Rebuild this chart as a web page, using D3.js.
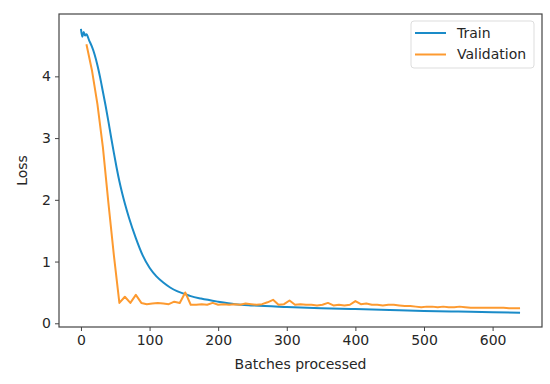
<!DOCTYPE html>
<html>
<head>
<meta charset="utf-8">
<script src="https://cdn.jsdelivr.net/npm/d3@7"></script>
<style>
  body { margin: 0; background: #fff; }
  svg text { font-family: "DejaVu Sans", sans-serif; fill: #262626; }
</style>
</head>
<body>
<svg id="chart" width="550" height="384"></svg>
<script>
// training loss
const trainBatch = [0, 2, 4, 6, 8, 12, 16, 20, 24, 28, 32, 36, 40, 44, 48, 52, 56, 60, 64, 70,
    80, 90, 100, 110, 120, 130, 140, 150, 160, 175, 200, 225, 250, 300, 350, 400, 450, 500, 550, 600, 640];
const trainLoss = [4.77, 4.64, 4.72, 4.66, 4.68, 4.58, 4.48, 4.35, 4.18, 3.98, 3.75, 3.52, 3.27, 3.01, 2.76, 2.52, 2.3, 2.11, 1.94, 1.71,
    1.38, 1.1, 0.9, 0.76, 0.66, 0.58, 0.52, 0.48, 0.44, 0.40, 0.35, 0.31, 0.29, 0.265, 0.245, 0.23, 0.215, 0.2, 0.19, 0.178, 0.17];

// validation evaluated every 8 batches
const valBatch = d3.range(8, 641, 8);
const valLoss = [4.52, 4.1, 3.55, 2.85, 1.95, 1.1, 0.33, 0.43, 0.33, 0.46,
    0.33, 0.31, 0.32, 0.33, 0.32, 0.31, 0.35, 0.33, 0.50, 0.30,
    0.30, 0.31, 0.30, 0.33, 0.30, 0.31, 0.30, 0.31, 0.30, 0.32,
    0.31, 0.30, 0.31, 0.34, 0.38, 0.30, 0.31, 0.37, 0.30, 0.31,
    0.30, 0.30, 0.29, 0.30, 0.33, 0.29, 0.30, 0.29, 0.30, 0.36,
    0.31, 0.32, 0.30, 0.30, 0.29, 0.30, 0.30, 0.29, 0.28, 0.28,
    0.27, 0.26, 0.27, 0.27, 0.26, 0.27, 0.26, 0.26, 0.27, 0.26,
    0.25, 0.25, 0.25, 0.25, 0.25, 0.25, 0.25, 0.245, 0.245, 0.245];

const xTicks = [0, 100, 200, 300, 400, 500, 600];
const yTicks = [0, 1, 2, 3, 4];
const seriesNames = ["Train", "Validation"];
const colors = ["#1a8bc8", "#fd9a30"];

const svg = d3.select("#chart"),
    margin = { top: 14, right: 8, bottom: 57, left: 59 },
    width = 550 - margin.left - margin.right,
    height = 384 - margin.top - margin.bottom;

const x = d3.scaleLinear().domain([-32, 672]).range([0, width]);
const y = d3.scaleLinear().domain([-0.06, 5.01]).range([height, 0]);

const g = svg.append("g")
    .attr("transform", "translate(" + margin.left + "," + margin.top + ")");

const trainLine = d3.line()
    .x(d => x(d[0]))
    .y(d => y(d[1]))
    .curve(d3.curveMonotoneX);
const valLine = d3.line()
    .x(d => x(d[0]))
    .y(d => y(d[1]));

g.append("path")
    .datum(d3.zip(trainBatch, trainLoss))
    .attr("d", trainLine)
    .attr("fill", "none")
    .attr("stroke", colors[0])
    .attr("stroke-width", 2);

g.append("path")
    .datum(d3.zip(valBatch, valLoss))
    .attr("d", valLine)
    .attr("fill", "none")
    .attr("stroke", colors[1])
    .attr("stroke-width", 2)
    .attr("stroke-linejoin", "round");

// axes
const xAxis = g.append("g")
    .attr("transform", "translate(0," + height + ")")
    .call(d3.axisBottom(x).tickValues(xTicks).tickFormat(d3.format("d")).tickSize(4).tickPadding(4));
const yAxis = g.append("g")
    .call(d3.axisLeft(y).tickValues(yTicks).tickFormat(d3.format("d")).tickSize(4).tickPadding(4));

[xAxis, yAxis].forEach(a => {
    a.selectAll("text").attr("font-size", 14).style("font-family", "DejaVu Sans");
    a.selectAll("line").attr("stroke", "#444");
    a.select(".domain").remove();
});

// box around the plot
g.append("rect")
    .attr("width", width)
    .attr("height", height)
    .attr("fill", "none")
    .attr("stroke", "#444")
    .attr("stroke-width", 1.2);

g.append("text")
    .attr("x", width / 2)
    .attr("y", height + 42)
    .attr("text-anchor", "middle")
    .attr("font-size", 14)
    .text("Batches processed");

g.append("text")
    .attr("transform", "translate(-32," + (height / 2) + ") rotate(-90)")
    .attr("text-anchor", "middle")
    .attr("font-size", 14)
    .text("Loss");

// legend
const legend = g.append("g")
    .attr("transform", "translate(" + (width - 131) + ",7)");
legend.append("rect")
    .attr("width", 123)
    .attr("height", 47)
    .attr("rx", 3)
    .attr("fill", "#fff")
    .attr("stroke", "#ddd");
seriesNames.forEach((name, i) => {
    const row = legend.append("g").attr("transform", "translate(0," + (12 + i * 21.5) + ")");
    row.append("line")
        .attr("x1", 4).attr("x2", 35)
        .attr("stroke", colors[i])
        .attr("stroke-width", 2);
    row.append("text")
        .attr("x", 46)
        .attr("dy", "0.35em")
        .attr("font-size", 14)
        .text(name);
});
</script>
</body>
</html>
